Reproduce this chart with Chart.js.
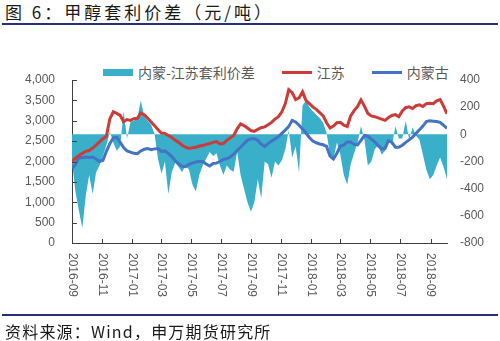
<!DOCTYPE html>
<html>
<head>
<meta charset="utf-8">
<script src="https://cdn.jsdelivr.net/npm/chart.js@4.4.0/dist/chart.umd.min.js"></script>
<style>
  html, body { margin: 0; padding: 0; background: #fff; }
  #wrap { position: relative; width: 500px; height: 341px; overflow: hidden; font-family: "Noto Sans CJK SC", sans-serif; }
  #chart { position: absolute; left: 0; top: 0; }
  .caption { position: absolute; left: 5px; font-size: 16px; line-height: 18px; color: #1a1a1a; white-space: nowrap; }
  #title { top: 3px; font-size: 17px; letter-spacing: 3px; }
  #source { top: 322px; letter-spacing: 1.2px; }
  .rule { position: absolute; left: 2px; width: 496px; height: 2px; background: #26307a; }
  #legend { position: absolute; left: 103px; top: 63px; height: 18px; display: flex; align-items: center; gap: 27px;
            font-size: 14px; color: #595959; white-space: nowrap; }
  #legend .item { display: flex; align-items: center; gap: 5px; }
</style>
</head>
<body>
<div id="wrap">
  <div id="title" class="caption">图 6：甲醇套利价差（元/吨）</div>
  <div class="rule" style="top:23px"></div>
  <div id="legend"></div>
  <canvas id="chart" width="500" height="341"></canvas>
  <div class="rule" style="top:314px"></div>
  <div id="source" class="caption">资料来源：Wind，申万期货研究所</div>
</div>
<script>
// weekly samples starting 2016-09-01
var seriesNames = ['内蒙-江苏套利价差', '江苏', '内蒙古'];
var tickLabels = ['2016-09', '2016-11', '2017-01', '2017-03', '2017-05', '2017-07', '2017-09',
                  '2017-11', '2018-01', '2018-03', '2018-05', '2018-07', '2018-09'];

var jiangsu = [
  2000, 2080, 2150, 2200, 2250, 2270, 2330, 2400, 2480, 2560,
  2620, 3050, 3220, 3180, 3130, 2980, 3030, 3010, 3050, 3060,
  3190, 3150, 3060, 2970, 2880, 2780, 2700, 2690, 2640, 2590,
  2520, 2470, 2400, 2350, 2320, 2340, 2350, 2380, 2390, 2420,
  2440, 2470, 2490, 2430, 2440, 2520, 2580, 2640, 2800, 2920,
  2880, 2820, 2760, 2740, 2790, 2830, 2850, 2900, 2960, 3040,
  3100, 3220, 3420, 3760, 3690, 3520, 3560, 3710, 3500, 3420,
  3340, 3280, 3200, 3120, 2950, 2820, 2870, 2950, 2960, 2890,
  2860, 3120, 3250, 3350, 3510, 3360, 3180, 3120, 3100, 3070,
  3040, 3010, 3080, 3130, 3150, 3100, 3240, 3320, 3340, 3300,
  3370, 3390, 3350, 3420, 3430, 3420, 3490, 3520, 3360, 3170
];

var neimeng = [
  1830, 1920, 2100, 2090, 2110, 2100, 2110, 2060, 2000, 2030,
  2250, 2440, 2580, 2590, 2470, 2340, 2260, 2230, 2200, 2190,
  2260, 2300, 2320, 2290, 2310, 2320, 2250, 2260, 2200, 2120,
  2020, 1940, 1880, 1870, 1930, 1960, 1990, 2000, 2000, 1940,
  1890, 1950, 1960, 2000, 2050, 2070, 2110, 2180, 2270, 2350,
  2440, 2520, 2560, 2560, 2520, 2420, 2370, 2440, 2500, 2550,
  2610, 2690, 2770, 2860, 3010, 2970, 2890, 2800, 2700, 2590,
  2500, 2460, 2430, 2410, 2370, 2130, 2060, 2200, 2380, 2400,
  2480, 2480, 2420, 2410, 2520, 2640, 2620, 2550, 2480, 2390,
  2310, 2320, 2510, 2470, 2350, 2350, 2400, 2470, 2530, 2600,
  2690, 2780, 2870, 2980, 3000, 2990, 2980, 2960, 2890, 2810
];

var spread = [
  -200, -420, -560, -690, -450, -300, -440, -280, -230, -160,
  -80, 20, -60, -120, -90, 170, -30, 90, 100, 120,
  250, 130, 100, 70, 0, -180, -290, -200, -440, -280,
  -210, -240, -280, -230, -260, -370, -420, -300, -230, -180,
  -130, -160, -140, -230, -300, -230, -260, -275, -130, -300,
  -400, -500, -570, -500, -330, -470, -200, -220, -320, -200,
  -230, -190, -110, 30, -170, -90, -280, 210, 250, 200,
  170, 145, 120, 85, 10, -150, -180, -60, -150, -300,
  -370, -220, -140, -60, 60, -40, -230, -200, -110, -80,
  -150, -120, -40, -80, 60, -30, -30, 100, -40, 50,
  -10, -40, -150, -260, -330, -300, -230, -170, -240, -330
];

var CYAN = '#3aafc9', RED = '#cc3b37', BLUE = '#4472c4';
var DAY = 86400000;
var start = Date.UTC(2016, 8, 1);

function dayOf(label) {
  return (Date.UTC(+label.slice(0, 4), +label.slice(5, 7) - 1, 1) - start) / DAY;
}
function weekly(arr) {
  return arr.map(function (v, i) { return { x: i * 7, y: v }; });
}
var tickDays = tickLabels.map(dayOf);

// inward tick marks and top-to-bottom date labels
var axisMarks = {
  id: 'axisMarks',
  afterDraw: function (chart) {
    var ctx = chart.ctx, a = chart.chartArea, x = chart.scales.x, y = chart.scales.y;
    ctx.save();
    ctx.strokeStyle = '#404040';
    ctx.lineWidth = 1;
    ctx.beginPath();
    y.ticks.forEach(function (t) {
      var py = Math.round(y.getPixelForValue(t.value)) + 0.5;
      ctx.moveTo(a.left, py);
      ctx.lineTo(a.left + 5, py);
    });
    tickDays.forEach(function (d) {
      var px = Math.round(x.getPixelForValue(d)) + 0.5;
      ctx.moveTo(px, a.bottom);
      ctx.lineTo(px, a.bottom - 4);
    });
    ctx.stroke();
    ctx.fillStyle = '#595959';
    ctx.font = '12px "Liberation Sans", Arial, sans-serif';
    ctx.textAlign = 'left';
    ctx.textBaseline = 'middle';
    tickLabels.forEach(function (lab, k) {
      ctx.save();
      ctx.translate(x.getPixelForValue(tickDays[k]), a.bottom + 10);
      ctx.rotate(Math.PI / 2);
      ctx.fillText(lab, 0, 0);
      ctx.restore();
    });
    ctx.restore();
  }
};

var tickFont = { family: '"Liberation Sans", Arial, sans-serif', size: 12 };

var chart = new Chart(document.getElementById('chart'), {
  type: 'line',
  data: {
    datasets: [
      { label: seriesNames[1], data: weekly(jiangsu), yAxisID: 'y', borderColor: RED, borderWidth: 3,
        pointRadius: 0, tension: 0, fill: false },
      { label: seriesNames[2], data: weekly(neimeng), yAxisID: 'y', borderColor: BLUE, borderWidth: 3,
        pointRadius: 0, tension: 0, fill: false },
      { label: seriesNames[0], data: weekly(spread), yAxisID: 'y2', borderWidth: 0, borderColor: CYAN,
        backgroundColor: CYAN, pointRadius: 0, tension: 0, fill: 'origin' }
    ]
  },
  options: {
    responsive: false,
    animation: false,
    layout: { padding: { top: 80, bottom: 0, left: 0, right: 0 } },
    plugins: { legend: { display: false }, tooltip: { enabled: false } },
    scales: {
      x: {
        type: 'linear', min: 0, max: 763,
        grid: { display: false, drawTicks: false },
        border: { display: true, color: '#404040', width: 1 },
        ticks: { display: false },
        afterFit: function (s) { s.height = 98; }
      },
      y: {
        position: 'left', min: 0, max: 4000,
        grid: { display: false, drawTicks: false },
        border: { display: true, color: '#404040', width: 1 },
        ticks: { stepSize: 500, padding: 17, color: '#595959', font: tickFont },
        afterFit: function (s) { s.width = 72; }
      },
      y2: {
        position: 'right', min: -800, max: 400,
        grid: { display: false, drawTicks: false },
        border: { display: false },
        ticks: { stepSize: 200, padding: 13, color: '#595959', font: tickFont },
        afterFit: function (s) { s.width = 53; }
      }
    }
  },
  plugins: [axisMarks]
});

// legend in the order spread, 江苏, 内蒙古
var legendEl = document.getElementById('legend');
[[seriesNames[0], CYAN, 'box'], [seriesNames[1], RED, 'line'], [seriesNames[2], BLUE, 'line']].forEach(function (it) {
  var item = document.createElement('div');
  item.className = 'item';
  var mark = document.createElement('span');
  mark.style.display = 'inline-block';
  mark.style.width = '30px';
  mark.style.height = it[2] === 'box' ? '7px' : '3px';
  mark.style.background = it[1];
  var txt = document.createElement('span');
  txt.textContent = it[0];
  item.appendChild(mark);
  item.appendChild(txt);
  legendEl.appendChild(item);
});
</script>
</body>
</html>
